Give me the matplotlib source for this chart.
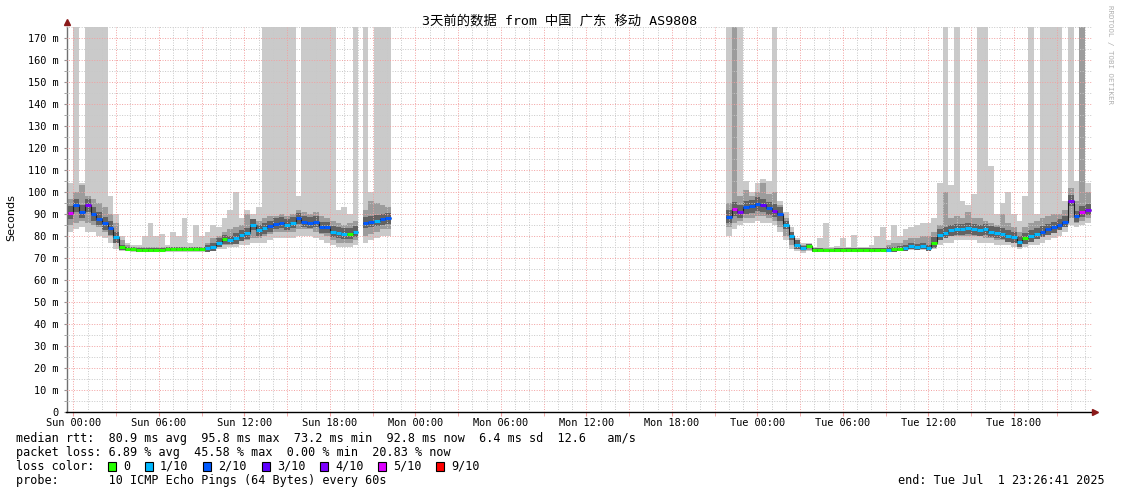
import matplotlib.pyplot as plt
import numpy as np

# time axis: hours after Sun 00:00, graph covers 3 days up to Tue 23:26:41
t_start = -0.555
t_end = 71.445
step = 0.4  # consolidation step in hours (drawn width of each sample)

# data segments (start hour of each segment); gaps between them have no data
seg_start = [-0.4, 20.3, 45.8]

# ---------- segment 1 : Sun 00:00 - Sun 20:00 ----------
s1_med = [90.5, 94.0, 91.0, 94.0, 90.0, 87.8, 85.7, 83.6, 79.5, 74.8,
          74.3, 74.0, 73.6, 73.6, 73.6, 73.6, 73.8, 74.0, 74.1, 74.1,
          74.1, 74.1, 74.2, 74.2, 74.4, 75.0, 77.0, 78.5, 78.2, 79.0,
          80.4, 81.3, 85.0, 82.5, 83.5, 84.5, 85.5, 86.0, 85.0, 86.0,
          88.0, 86.5, 86.0, 86.5, 84.0, 84.0, 82.0, 81.5, 81.0, 81.0,
          82.0]
s1_loss = [5, 2, 2, 4, 2, 2, 2, 2, 1, 0,
           0, 0, 0, 0, 0, 0, 0, 0, 0, 0,
           0, 0, 0, 0, 1, 1, 1, 0, 1, 1,
           1, 1, 1, 1, 1, 2, 2, 2, 1, 1,
           2, 2, 2, 2, 2, 2, 1, 1, 1, 0,
           1]
s1_lo = [82, 83, 84, 82, 82, 80, 79, 77, 74, 73,
         73, 72.8, 72.8, 72.8, 72.8, 72.8, 72.8, 72.8, 72.8, 72.8,
         72.8, 72.8, 72.8, 72.8, 73, 73, 74, 74, 75, 75,
         76, 76, 77, 77, 77, 78, 79, 79, 79, 79,
         80, 80, 80, 79, 78, 77, 76, 75, 75, 75,
         76]
s1_lo2 = [85, 86, 87, 86, 85, 84, 82, 80, 77, 73.5,
          73.2, 73, 73, 73, 73, 73, 73, 73, 73, 73,
          73, 73, 73, 73, 73.5, 74, 75, 76, 76, 77,
          78, 78, 79, 79, 80, 81, 82, 82, 82, 82,
          83, 83, 83, 82, 81, 80, 78, 77, 77, 77,
          78]
s1_hi2 = [97, 100, 103, 98, 97, 95, 93, 90, 86, 78,
          76, 75, 75, 75, 75, 75, 75, 75, 75, 75,
          75, 75, 75, 75, 77, 79, 80, 82, 83, 84,
          85, 90, 86, 87, 88, 89, 89, 90, 89, 90,
          92, 91, 90, 91, 89, 88, 87, 86, 85, 86,
          87]
s1_hi = [104, 180, 104, 180, 180, 180, 180, 98, 90, 80,
         77, 76, 76, 80, 86, 80, 81, 76, 82, 80,
         88, 77, 85, 80, 82, 85, 84, 88, 92, 100,
         88, 92, 90, 93, 180, 180, 180, 180, 180, 180,
         98, 180, 180, 180, 180, 180, 180, 92, 93, 90,
         180]
s1_dw = [3, 3, 3, 3, 3, 3, 3, 3, 2.5, 1,
         0.8, 0.8, 0.8, 0.8, 0.8, 0.8, 0.8, 0.8, 0.8, 0.8,
         0.8, 0.8, 0.8, 0.8, 1.5, 2, 2, 2, 2, 2.5,
         2.5, 2.5, 2.5, 2.5, 2.5, 2.5, 2.5, 2.5, 2.5, 2.5,
         2.5, 2.5, 2.5, 2.5, 2.5, 2.5, 2.5, 2.5, 2.5, 2.5,
         2.5]

# ---------- segment 2 : Sun 20:20 - Sun 22:20 ----------
s2_med = [86.0, 86.5, 87.0, 87.5, 88.0]
s2_loss = [2, 2, 1, 2, 2]
s2_lo = [77, 78, 79, 80, 80]
s2_lo2 = [80, 81, 82, 83, 83]
s2_hi2 = [92, 96, 95, 94, 93]
s2_hi = [180, 100, 180, 180, 180]
s2_dw = [2.5, 2.5, 2.5, 2.5, 2.5]

# ---------- segment 3 : Mon 21:50 - Tue 23:26 ----------
s3_med = [88.8, 92.3, 91.0, 93.0, 93.5, 94.5, 94.0, 92.5, 91.5, 90.0,
          85.0, 80.0, 76.0, 74.5, 75.5, 73.6, 73.6, 73.5, 73.5, 73.6,
          73.6, 73.6, 73.7, 73.7, 73.6, 73.6, 73.7, 73.8, 73.8, 74.0,
          74.3, 74.5, 75.5, 75.0, 75.5, 74.5, 77.0, 80.5, 81.5, 82.5,
          83.0, 83.0, 83.5, 83.0, 82.5, 83.0, 82.0, 81.5, 81.0, 80.0,
          79.5, 77.5, 79.0, 80.0, 81.0, 82.0, 83.0, 84.0, 85.0, 86.5,
          96.0, 89.0, 91.0, 92.0]
s3_loss = [2, 5, 4, 2, 2, 2, 3, 2, 4, 2,
           1, 1, 1, 1, 0, 0, 0, 0, 0, 0,
           0, 0, 0, 0, 0, 0, 0, 0, 1, 0,
           0, 1, 1, 1, 1, 1, 0, 1, 1, 1,
           1, 1, 1, 1, 1, 1, 1, 1, 1, 1,
           1, 1, 0, 1, 1, 2, 2, 2, 2, 2,
           4, 2, 5, 4]
s3_lo = [80, 83, 85, 86, 86, 87, 86, 86, 85, 82,
         78, 74, 73, 72.5, 73, 72.8, 72.8, 72.8, 72.8, 72.8,
         72.8, 72.8, 72.8, 72.8, 72.8, 72.8, 72.8, 72.8, 73, 73,
         73, 73, 73.5, 73.5, 73.5, 73, 74, 76, 77, 77,
         78, 78, 78, 78, 77, 77, 77, 76, 76, 76,
         75, 74, 75, 76, 76, 77, 78, 79, 80, 82,
         85, 84, 85, 86]
s3_lo2 = [84, 86, 87, 88, 88, 89, 89, 88, 87, 84,
          80, 76, 74, 73, 73.5, 73, 73, 73, 73, 73,
          73, 73, 73, 73, 73, 73, 73, 73, 73.5, 73.5,
          74, 74, 74, 74, 74, 74, 76, 78, 79, 80,
          80, 80, 80, 80, 80, 79, 79, 78, 78, 78,
          77, 75, 77, 78, 79, 80, 81, 82, 83, 84,
          88, 86, 87, 88]
s3_hi2 = [95, 180, 98, 101, 98, 100, 104, 99, 100, 94,
          88, 82, 78, 76, 76, 74.5, 74.5, 74.5, 74.5, 74.5,
          74.5, 74.5, 74.5, 74.5, 74.5, 74.5, 74.5, 74.5, 76, 77,
          77, 78, 79, 79, 80, 80, 82, 85, 100, 88,
          89, 88, 91, 88, 88, 87, 86, 85, 90, 86,
          84, 82, 84, 86, 87, 88, 89, 90, 90, 92,
          102, 96, 180, 100]
s3_hi = [180, 180, 180, 105, 100, 104, 106, 105, 180, 96,
         91, 84, 79, 77, 77, 75, 79, 86, 75, 75.5,
         79, 75, 80.5, 75, 75, 76, 80, 84, 78, 85,
         80, 83, 84, 85, 86, 86, 88, 104, 180, 103,
         180, 96, 94, 99, 180, 180, 112, 90, 95, 100,
         90, 87, 98, 180, 90, 180, 180, 180, 180, 96,
         180, 105, 180, 104]
s3_dw = [3, 3, 3, 3, 3, 3, 3, 3, 3, 3,
         2, 2, 2, 0.8, 0.8, 0.8, 0.8, 0.8, 0.8, 0.8,
         0.8, 0.8, 0.8, 0.8, 0.8, 0.8, 0.8, 0.8, 1.2, 1.2,
         1.2, 1.2, 1.2, 1.2, 1.2, 1.2, 2.5, 2.5, 2.5, 2.5,
         2.5, 2.5, 2.5, 2.5, 2.5, 2.5, 2.5, 2.5, 2.5, 2.5,
         2.5, 2.5, 2.5, 2.5, 2.5, 2.5, 2.5, 2.5, 2.5, 2.5,
         2.5, 2.5, 2.5, 2.5]

loss_colors = {0: '#26ff00', 1: '#00b8ff', 2: '#0059ff', 3: '#5e00ff',
               4: '#7e00ff', 5: '#dd00ff', 9: '#ff0000'}
legend_keys = [0, 1, 2, 3, 4, 5, 9]
legend_labels = ['0', '1/10', '2/10', '3/10', '4/10', '5/10', '9/10']
days = ['Sun', 'Mon', 'Tue']

MONO = ['DejaVu Sans Mono', 'Noto Sans CJK SC']

W, H = 1121, 494
fig = plt.figure(figsize=(W / 100, H / 100), dpi=100)
ax = fig.add_axes([65.5 / W, 82 / H, 1026 / W, 385 / H])
ax.set_xlim(t_start, t_end)
ax.set_ylim(0, 175)

segments = [
    (s1_med, s1_loss, s1_lo, s1_lo2, s1_hi2, s1_hi, s1_dw),
    (s2_med, s2_loss, s2_lo, s2_lo2, s2_hi2, s2_hi, s2_dw),
    (s3_med, s3_loss, s3_lo, s3_lo2, s3_hi2, s3_hi, s3_dw),
]

for t0, (med, loss, lo, lo2, hi2, hi, dw) in zip(seg_start, segments):
    med = np.array(med)
    dw = np.array(dw)
    edges = t0 + step * np.arange(len(med) + 1)
    # smoke
    ax.stairs(hi, edges, baseline=lo, fill=True, color='#cacaca', lw=0, zorder=1)
    ax.stairs(hi2, edges, baseline=lo2, fill=True, color='#9c9c9c', lw=0, zorder=2)
    ax.stairs(med + dw, edges, baseline=med - dw, fill=True, color='#626262', lw=0, zorder=3)
    # median line
    ax.stairs(med, edges, baseline=None, color='#202020', lw=0.8, zorder=5)
    cols = [loss_colors[l] for l in loss]
    ax.hlines(med, edges[:-1], edges[1:], colors=cols, lw=2.2, zorder=6)

# grid
minor_col = '#c8c8c8'
major_col = '#f2a0a0'
dot = (0, (1, 1.6))
for h in range(0, 72):
    if h % 3 == 0:
        ax.axvline(h, color=major_col, lw=0.7, ls=dot, zorder=4)
    else:
        ax.axvline(h, color=minor_col, lw=0.7, ls=dot, zorder=4)
for v in range(5, 176, 5):
    if v % 10 == 0:
        ax.axhline(v, color=major_col, lw=0.7, ls=dot, zorder=4)
    else:
        ax.axhline(v, color=minor_col, lw=0.7, ls=dot, zorder=4)

# axes
for s in ['top', 'right']:
    ax.spines[s].set_visible(False)
ax.spines['left'].set_color('#707070')
ax.spines['left'].set_linewidth(1.0)
ax.spines['bottom'].set_color('black')
ax.spines['bottom'].set_linewidth(1.0)
ax.spines['left'].set_position(('data', t_start + 0.1))

xt = list(range(0, 72, 6))
ax.set_xticks(xt)
ax.set_xticklabels(['%s %02d:00' % (days[h // 24], h % 24) for h in xt],
                   family=MONO, fontsize=7.4)
ax.set_xticks(list(range(3, 72, 6)), minor=True)
ax.tick_params(axis='x', which='both', length=3, color=major_col, pad=1.5)

yt = list(range(0, 171, 10))
ax.set_yticks(yt)
ax.set_yticklabels(['0' if v == 0 else '%d m' % v for v in yt], family=MONO, fontsize=7.4)
ax.set_yticks(list(range(5, 171, 10)), minor=True)
ax.tick_params(axis='y', which='both', length=2, color='#909090', pad=4)

# axis arrows
ax.plot([t_start + 0.1], [177.3], marker='^', color='#8b1a1a', ms=4.5, clip_on=False, zorder=10)
ax.plot([t_end + 0.25], [0], marker='>', color='#8b1a1a', ms=4.5, clip_on=False, zorder=10)
ax.plot([t_end, t_end + 0.2], [0, 0], color='black', lw=1.0, clip_on=False)

# title and labels
fig.text(560 / W, 1 - 21 / H, '3天前的数据 from 中国 广东 移动 AS9808',
         family=MONO, fontsize=9.6, ha='center', va='center')
fig.text(11 / W, 1 - 218 / H, 'Seconds', rotation=90, ha='center', va='center',
         family='DejaVu Sans', fontsize=8)
fig.text(1110 / W, 1 - 5 / H, 'RRDTOOL / TOBI OETIKER', rotation=270, ha='center', va='top',
         family=MONO, fontsize=5.4, color='#b0b0b0')

# legend lines
lx = 16 / W
fs = 8.5
fig.text(lx, 1 - 438 / H,
         'median rtt:  80.9 ms avg  95.8 ms max  73.2 ms min  92.8 ms now  6.4 ms sd  12.6   am/s',
         family=MONO, fontsize=fs, va='center')
fig.text(lx, 1 - 452 / H,
         'packet loss: 6.89 % avg  45.58 % max  0.00 % min  20.83 % now',
         family=MONO, fontsize=fs, va='center')
fig.text(lx, 1 - 466 / H, 'loss color:', family=MONO, fontsize=fs, va='center')
sq_x = [108, 145, 203, 262, 320, 378, 436]
for x, k, lab in zip(sq_x, legend_keys, legend_labels):
    fig.patches.append(plt.Rectangle((x / W, 1 - 470.5 / H), 8 / W, 9 / H,
                                     transform=fig.transFigure, facecolor=loss_colors[k],
                                     edgecolor='black', lw=0.8))
    fig.text((x + 15) / W, 1 - 466 / H, lab, family=MONO, fontsize=fs, va='center')
fig.text(lx, 1 - 480 / H, 'probe:       10 ICMP Echo Pings (64 Bytes) every 60s',
         family=MONO, fontsize=fs, va='center')
fig.text(1105 / W, 1 - 480 / H, 'end: Tue Jul  1 23:26:41 2025',
         family=MONO, fontsize=fs, va='center', ha='right')

fig.savefig('out.png', dpi=100)
